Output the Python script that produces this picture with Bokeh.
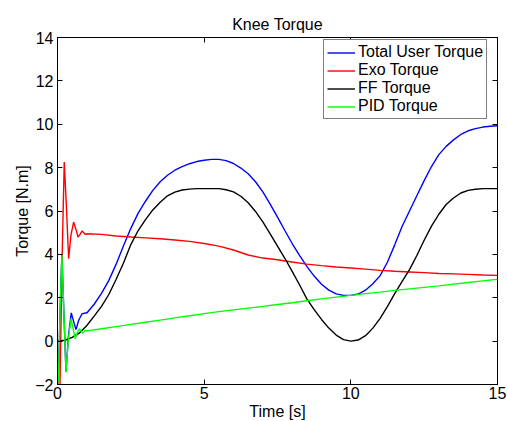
from bokeh.plotting import figure
from bokeh.models import Range1d, FixedTicker, LinearAxis, Legend, LegendItem
from bokeh.embed import file_html
from bokeh.resources import INLINE

# ---- data ----
t_total = [0, 0.03, 0.09, 0.15, 0.22, 0.29, 0.37, 0.47, 0.55, 0.63, 0.72, 0.83, 0.95,
           1.0, 1.25, 1.5, 1.75, 2.0, 2.25, 2.5, 2.75, 3.0, 3.25, 3.5, 3.75, 4.0, 4.25, 4.5, 4.75,
           5.0, 5.25, 5.5, 5.75, 6.0, 6.25, 6.5, 6.75, 7.0, 7.25, 7.5, 7.75, 8.0, 8.25, 8.5, 8.75,
           9.0, 9.25, 9.5, 9.75, 10.0, 10.25, 10.5, 10.75, 11.0, 11.25, 11.5, 11.75, 12.0, 12.25,
           12.5, 12.75, 13.0, 13.25, 13.5, 13.75, 14.0, 14.25, 14.5, 14.75, 15.0]
total_user = [-1.0, -1.9, 1.5, 4.0, 1.2, -1.4, 0.2, 1.3, 0.9, 0.53, 0.95, 1.25, 1.3,
              1.3, 1.7, 2.2, 2.8, 3.55, 4.4, 5.2, 5.9, 6.45, 6.95, 7.35, 7.65, 7.88, 8.05, 8.18, 8.28,
              8.34, 8.38, 8.38, 8.32, 8.19, 7.98, 7.72, 7.35, 6.88, 6.32, 5.72, 5.1, 4.5, 3.95, 3.45, 3.0,
              2.62, 2.35, 2.18, 2.11, 2.11, 2.17, 2.35, 2.65, 3.02, 3.65, 4.45, 5.3, 6.0, 6.7,
              7.4, 8.05, 8.6, 8.98, 9.28, 9.53, 9.7, 9.8, 9.87, 9.91, 9.93]

t_exo = [0, 0.04, 0.085, 0.16, 0.23, 0.3, 0.38, 0.46, 0.55, 0.63, 0.7, 0.77, 0.84, 0.95,
         1.0, 1.5, 2.0, 2.5, 3.0, 3.5, 4.0, 4.5, 5.0, 5.5, 6.0, 6.5, 7.0, 7.5, 8.0, 8.5,
         9.0, 9.5, 10.0, 10.5, 11.0, 11.5, 12.0, 12.5, 13.0, 13.5, 14.0, 14.5, 15.0]
exo = [-1.0, -3.5, -2.0, 4.0, 8.26, 6.3, 3.8, 4.9, 5.49, 5.15, 4.8, 4.92, 5.08, 4.92,
       4.95, 4.92, 4.85, 4.8, 4.76, 4.72, 4.66, 4.6, 4.5, 4.38, 4.2, 3.97, 3.83, 3.75, 3.65, 3.55,
       3.48, 3.42, 3.37, 3.32, 3.26, 3.22, 3.19, 3.16, 3.12, 3.1, 3.08, 3.05, 3.03]

t_ff = [0, 0.25, 0.5, 0.75, 1.0, 1.25, 1.5, 1.75, 2.0, 2.25, 2.5, 2.75, 3.0, 3.25, 3.5, 3.75,
        4.0, 4.25, 4.5, 4.75, 5.0, 5.25, 5.5, 5.75, 6.0, 6.25, 6.5, 6.75, 7.0, 7.25, 7.5, 7.75,
        8.0, 8.25, 8.5, 8.75, 9.0, 9.25, 9.5, 9.75, 10.0, 10.25, 10.5, 10.75, 11.0, 11.25, 11.5,
        11.75, 12.0, 12.25, 12.5, 12.75, 13.0, 13.25, 13.5, 13.75, 14.0, 14.25, 14.5, 14.75, 15.0]
ff = [0, 0.04, 0.17, 0.38, 0.72, 1.15, 1.6, 2.15, 2.85, 3.6, 4.45, 5.1, 5.6, 6.05, 6.4, 6.7,
      6.87, 6.97, 7.01, 7.03, 7.03, 7.03, 7.03, 6.98, 6.88, 6.68, 6.38, 5.98, 5.5, 4.95, 4.38, 3.82,
      3.22, 2.6, 1.95, 1.45, 1.0, 0.6, 0.28, 0.07, 0.0, 0.05, 0.25, 0.6, 1.05, 1.6, 2.2,
      2.75, 3.3, 3.95, 4.65, 5.3, 5.85, 6.3, 6.6, 6.83, 6.95, 7.0, 7.03, 7.03, 7.03]

t_pid = [0, 0.03, 0.09, 0.15, 0.22, 0.29, 0.37, 0.46, 0.53, 0.6, 0.68, 0.75, 0.85, 0.95,
         1.0, 1.5, 2.0, 2.5, 3.0, 3.5, 4.0, 4.5, 5.0, 5.5, 6.0, 6.5, 7.0, 7.5, 8.0, 8.5,
         9.0, 9.5, 10.0, 10.5, 11.0, 11.5, 12.0, 12.5, 13.0, 13.5, 14.0, 14.5, 15.0]
pid = [-1.0, -1.9, 1.5, 4.0, 1.2, -1.43, 0.1, 1.03, 0.6, 0.11, 0.4, 0.57, 0.37, 0.5,
       0.47, 0.57, 0.67, 0.77, 0.87, 0.97, 1.07, 1.17, 1.27, 1.36, 1.44, 1.52, 1.6, 1.69, 1.77, 1.86,
       1.95, 2.03, 2.11, 2.19, 2.26, 2.34, 2.41, 2.48, 2.55, 2.63, 2.7, 2.78, 2.85]

x_ticks = [0, 5, 10, 15]
y_ticks = [-2, 0, 2, 4, 6, 8, 10, 12, 14]
series_names = ["Total User Torque", "Exo Torque", "FF Torque", "PID Torque"]
series_colors = ["#0000ff", "#ff0000", "#000000", "#00ff00"]

FONT = "Liberation Sans"
FS = "16px"

p = figure(frame_width=440, frame_height=347, output_backend="svg", toolbar_location=None,
           x_range=Range1d(0, 15), y_range=Range1d(-2, 14),
           min_border_left=57, min_border_right=10, min_border_top=37, min_border_bottom=37,
           title="Knee Torque")
p.background_fill_color = "white"
p.border_fill_color = "white"
p.outline_line_color = "black"
p.outline_line_width = 1
p.grid.visible = False

p.title.align = "center"
p.title.text_font = FONT
p.title.text_font_size = FS
p.title.text_font_style = "normal"
p.title.text_color = "black"

for ax, ticks in ((p.xaxis[0], x_ticks), (p.yaxis[0], y_ticks)):
    ax.ticker = FixedTicker(ticks=ticks)
    ax.major_tick_in = 5
    ax.major_tick_out = 0
    ax.minor_tick_line_color = None
    ax.axis_line_color = "black"
    ax.major_tick_line_color = "black"
    ax.major_label_text_font = FONT
    ax.major_label_text_font_size = FS
    ax.major_label_text_color = "black"
    ax.axis_label_text_font = FONT
    ax.axis_label_text_font_size = FS
    ax.axis_label_text_font_style = "normal"
    ax.axis_label_text_color = "black"
    ax.major_label_standoff = 2
    ax.axis_label_standoff = 1

p.xaxis.axis_label = "Time [s]"
p.yaxis.axis_label = "Torque [N.m]"
p.yaxis.major_label_standoff = 4
p.yaxis.axis_label_standoff = 1

for loc, ticks in (("above", x_ticks), ("right", y_ticks)):
    ax = LinearAxis(ticker=FixedTicker(ticks=ticks))
    ax.major_tick_in = 5
    ax.major_tick_out = 0
    ax.minor_tick_line_color = None
    ax.major_label_text_font_size = "0px"
    ax.major_label_standoff = 0
    ax.axis_line_color = "black"
    ax.major_tick_line_color = "black"
    p.add_layout(ax, loc)

lw = 1.4
r1 = p.line(t_total, total_user, line_color=series_colors[0], line_width=lw)
r2 = p.line(t_exo, exo, line_color=series_colors[1], line_width=lw)
r3 = p.line(t_ff, ff, line_color=series_colors[2], line_width=lw)
r4 = p.line(t_pid, pid, line_color=series_colors[3], line_width=lw)

legend = Legend(items=[LegendItem(label=n, renderers=[r]) for n, r in zip(series_names, [r1, r2, r3, r4])],
                location=(266, 265))
legend.border_line_color = "black"
legend.border_line_width = 1
legend.background_fill_alpha = 1
legend.label_text_font = FONT
legend.label_text_font_size = FS
legend.label_text_color = "black"
legend.padding = 3
legend.spacing = -3
legend.margin = 0
legend.label_height = 17
legend.glyph_height = 17
legend.glyph_width = 28
legend.label_standoff = 3
p.add_layout(legend, "center")

open("out.html", "w").write(file_html(p, INLINE))
